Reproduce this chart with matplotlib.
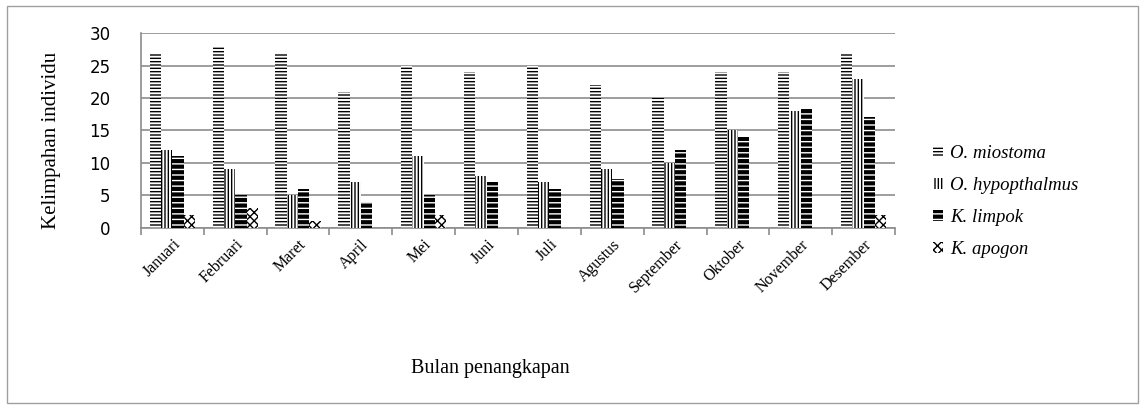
import matplotlib
matplotlib.use("Agg")
from matplotlib import pyplot as plt
from matplotlib.patches import Patch, Rectangle
import numpy as np

months = ['Januari', 'Februari', 'Maret', 'April', 'Mei', 'Juni', 'Juli',
          'Agustus', 'September', 'Oktober', 'November', 'Desember']
species = ['O. miostoma', 'O. hypopthalmus', 'K. limpok', 'K. apogon']

o_miostoma = [27, 28, 27, 21, 25, 24, 25, 22, 20, 24, 24, 27]
o_hypopthalmus = [12, 9, 5, 7, 11, 8, 7, 9, 10, 15, 18, 23]
k_limpok = [11, 5, 6, 4, 5, 7, 6, 7.5, 12, 14, 18.5, 17]
k_apogon = [2, 3, 1, 0, 2, 0, 0, 0, 0, 0, 0, 2]

series = [o_miostoma, o_hypopthalmus, k_limpok, k_apogon]
# (facecolor, hatch colour, hatch)
styles = [('white', 'black', '-----'),
          ('white', 'black', '|||||'),
          ('black', 'white', '---'),
          ('white', 'black', 'xxxx')]

serif = 'Liberation Serif'
plt.rcParams['hatch.linewidth'] = 1.0

fig = plt.figure(figsize=(11.45, 4.08), dpi=100)
fig.patches.append(Rectangle((0.006, 0.012), 0.988, 0.974, transform=fig.transFigure,
                             fill=False, edgecolor='#a0a0a0', linewidth=1))
ax = fig.add_axes([0.1231, 0.4412, 0.6586, 0.4779])

x = np.arange(len(months))
w = 0.18
for i, (vals, (fc, hc, h)) in enumerate(zip(series, styles)):
    ax.bar(x + (i - 1.5) * w, vals, width=w, facecolor=fc, edgecolor=hc,
           hatch=h, linewidth=0, label=species[i], zorder=3)

ax.set_xlim(-0.5, len(months) - 0.5)
ax.set_ylim(0, 30)
ax.set_yticks(range(0, 31, 5))
ax.yaxis.grid(True, color='#8c8c8c', linewidth=1.2, zorder=0)
for s in ['top', 'right']:
    ax.spines[s].set_visible(False)
for s in ['left', 'bottom']:
    ax.spines[s].set_color('#8c8c8c')
    ax.spines[s].set_linewidth(1.2)

# boundary ticks between months, labels centred under each group
ax.set_xticks(np.arange(-0.5, len(months), 1.0))
ax.set_xticklabels([])
ax.tick_params(axis='x', which='major', length=5, color='#8c8c8c', width=1.2)
ax.set_xticks(x, minor=True)
ax.set_xticklabels(months, minor=True, rotation=45, ha='right', rotation_mode='anchor',
                   fontfamily=serif, fontsize=11.5)
ax.tick_params(axis='x', which='minor', length=0, pad=6)
ax.tick_params(axis='y', length=0, labelsize=12, pad=22)

fig.text(0.045, 0.655, 'Kelimpahan individu', rotation=90, ha='center', va='center',
         fontfamily=serif, fontsize=15)
fig.text(0.428, 0.098, 'Bulan penangkapan', ha='center', va='center',
         fontfamily=serif, fontsize=14.5)

handles = [Patch(facecolor=fc, edgecolor=hc, hatch=h, linewidth=0)
           for fc, hc, h in styles]
leg = fig.legend(handles, species, loc='upper left', bbox_to_anchor=(0.8, 0.685),
                 frameon=False, handlelength=0.55, handleheight=0.55, handletextpad=0.35,
                 labelspacing=0.8, prop={'family': serif, 'style': 'italic', 'size': 13.5})

fig.savefig('out.png', dpi=100)
